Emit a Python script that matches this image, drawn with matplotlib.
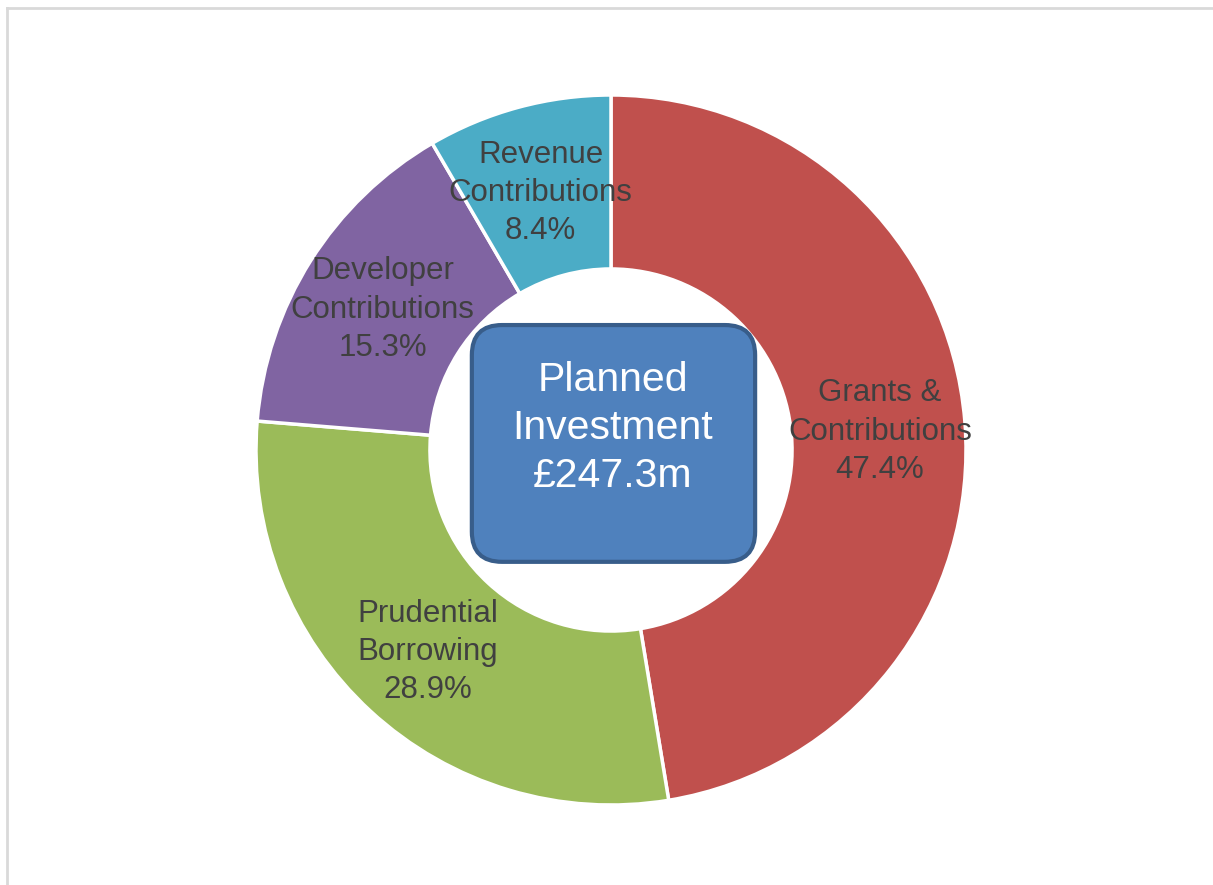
import matplotlib.pyplot as plt
import numpy as np
from matplotlib.patches import FancyBboxPatch
from matplotlib.lines import Line2D

plt.rcParams['font.family'] = ['Liberation Sans', 'DejaVu Sans']

# data
labels = ['Grants &\nContributions', 'Prudential\nBorrowing', 'Developer\nContributions', 'Revenue\nContributions']
shares = [47.4, 28.9, 15.3, 8.4]
colors = ['#C0504D', '#9BBB59', '#8064A2', '#4BACC6']
centre_text = 'Planned\nInvestment\n£247.3m'

#-----------------------------------------

fig = plt.figure(figsize=(12.13, 8.85), dpi=100)

# light frame of the chart area (only top and left visible)
fig.add_artist(Line2D([7 / 1213, 7 / 1213], [0, 1 - 8 / 885], transform=fig.transFigure,
                      color='#D9D9D9', lw=2))
fig.add_artist(Line2D([7 / 1213, 1], [1 - 8 / 885, 1 - 8 / 885], transform=fig.transFigure,
                      color='#D9D9D9', lw=2))

# 1 data unit = 355 px, centre at (611, 450) px from top-left
ax = fig.add_axes([211 / 1213, 35 / 885, 800 / 1213, 800 / 885])

wedges, _ = ax.pie(shares, colors=colors, startangle=90, counterclock=False, radius=1.0,
                   wedgeprops=dict(width=0.49, edgecolor='white', linewidth=2.5))

lim = 400 / 355
ax.set_xlim(-lim, lim)
ax.set_ylim(-lim, lim)
ax.set_aspect('equal')
ax.axis('off')

# labels at mid-angle of each wedge
for w, lab, s in zip(wedges, labels, shares):
    ang = np.deg2rad((w.theta1 + w.theta2) / 2)
    r = 0.76
    ax.text(r * np.cos(ang), r * np.sin(ang) - 0.01, f"{lab}\n{s:.1f}%", ha='center', va='center',
            fontsize=22.5, color='#404040', linespacing=1.36)

# centre box
box = FancyBboxPatch((-0.392 + 0.085, -0.315 + 0.085), 0.798 - 0.17, 0.667 - 0.17,
                     boxstyle='round,pad=0.085', facecolor='#4F81BD', edgecolor='#385D8A',
                     linewidth=3, zorder=3)
ax.add_patch(box)
ax.text(0.005, 0.062, centre_text, ha='center', va='center', fontsize=29.5, color='white',
        linespacing=1.33, zorder=4)

plt.savefig('out.png', dpi=100)
